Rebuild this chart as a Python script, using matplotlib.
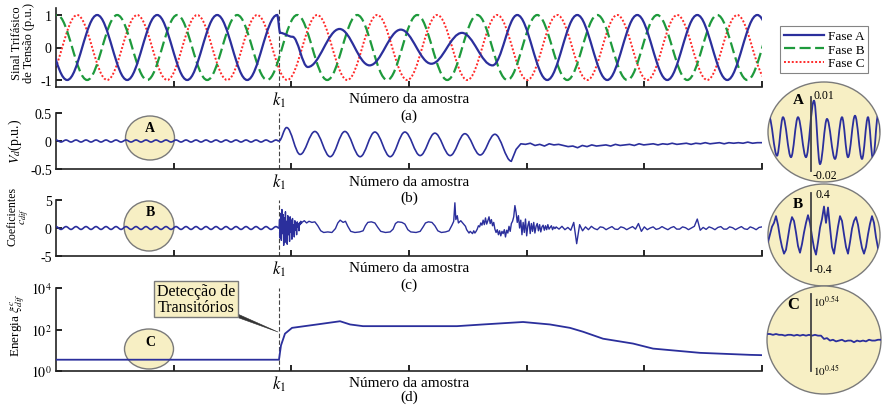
import numpy as np
import matplotlib
matplotlib.use("Agg")
import matplotlib.pyplot as plt
from matplotlib.path import Path
from matplotlib.patches import PathPatch, Ellipse
from matplotlib.lines import Line2D
from matplotlib.ticker import NullLocator

plt.rcParams['font.family'] = ['Liberation Serif', 'DejaVu Serif']
plt.rcParams['mathtext.fontset'] = 'stix'
plt.rcParams['axes.unicode_minus'] = False

# ─────────────────────────────────────────
# DATA
# ─────────────────────────────────────────
K1 = 1895
X_MAX = 6000
X_TICKS = [1000, 2000, 3000, 4000, 5000, 6000]

# (a) three-phase voltage: extrema of each phase (sample, p.u.)
fase_a_x = [-160, 95, 350, 605, 860, 1115, 1370, 1625, 1880, 1905, 2010, 2140,
            2410, 2665, 2930, 3190, 3450, 3710, 3920, 4175, 4430, 4685, 4940,
            5195, 5450, 5705, 5960, 6215]
fase_a_y = [1, -1, 1, -1, 1, -1, 1, -1, 1.0, 0.45, 0.33, -0.6,
            0.57, -0.55, 0.55, -0.5, 0.45, -0.55, 1.0, -1, 1, -1, 1,
            -1, 1, -1, 1, -1]
fase_b_x = np.arange(-245, 6400, 255)
fase_b_y = np.resize([-1.0, 1.0], len(fase_b_x))
fase_c_x = np.arange(-75, 6400, 255)
fase_c_y = np.resize([-1.0, 1.0], len(fase_c_x))

# (b) Vd: ripple before k1, oscillation during the sag, noisy tail
vd_ripple_x = np.arange(0, K1, 42.5)
vd_ripple_y = np.resize([0.018, -0.018], len(vd_ripple_x))
vd_osc_x = [1895, 1960, 2075, 2200, 2330, 2455, 2585, 2710, 2840, 2965, 3095,
            3220, 3350, 3475, 3605, 3730, 3870]
vd_osc_y = [0.0, 0.24, -0.24, 0.17, -0.28, 0.17, -0.28, 0.16, -0.28, 0.16, -0.26,
            0.14, -0.26, 0.13, -0.25, 0.12, -0.36]
vd_tail_y = [-0.36, -0.15, -0.05, -0.06, -0.04, -0.08, -0.06, -0.09, -0.05, -0.07,
             -0.06, -0.08, -0.10, -0.09, -0.12, -0.08, -0.10, -0.07, -0.09, -0.08,
             -0.07, -0.09, -0.06, -0.08, -0.07, -0.06, -0.08, -0.05, -0.07, -0.06,
             -0.05, -0.07, -0.05, -0.06, -0.04, -0.06, -0.05, -0.04, -0.06, -0.04,
             -0.05, -0.03, -0.05, -0.04, -0.03, -0.05, -0.03, -0.04, -0.03, -0.04,
             -0.02, -0.04, -0.03, -0.03]

# (c) coefficients c_dif
cd_ripple_x = np.arange(0, K1, 42.5)
cd_ripple_y = np.resize([0.25, -0.25], len(cd_ripple_x))
cd_burst_y = [0.0, 1.5, -1.8, 2.6, -2.2, 3.3, -1.0, 2.4, -3.1, 1.8, -2.6, 2.9, -1.5,
              1.2, -2.9, 2.2, -1.2, 1.6, -2.4, 2.0, -0.8, 1.4, -2.0, 1.7, -1.0, 0.6,
              -1.6, 1.3, -0.4, 0.9, -1.2, 1.1, 0.2, 0.8, -0.5, 1.0, 0.6, 1.2, 0.8, 1.0]
cd_trap_x = [2110, 2130, 2150, 2175, 2200, 2225, 2250, 2275, 2310, 2345, 2375, 2395,
             2415, 2440, 2460, 2480, 2505, 2540, 2580, 2610, 2630, 2650, 2680, 2710,
             2735, 2760, 2800, 2840, 2865, 2885, 2905, 2940, 2965, 2990, 3015, 3060,
             3095, 3120, 3140, 3165, 3195, 3220, 3245, 3275, 3310, 3340, 3365, 3380,
             3390, 3398, 3410, 3420, 3440, 3460, 3480]
cd_trap_y = [1.3, 0.9, 1.2, 1.0, 1.1, 0.4, -0.5, -0.8, -0.7, -0.8, -0.1, 0.9,
             1.4, 1.0, 1.2, 0.3, -0.6, -0.8, -0.7, -0.5, 0.4, 1.0, 1.1, 0.9,
             0.1, -0.6, -0.8, -0.7, -0.2, 0.8, 1.1, 1.0, 0.7, -0.3, -0.7, -0.8,
             -0.6, 0.2, 0.9, 1.1, 1.0, 0.4, -0.5, -0.8, -0.7, -0.5, 0.5, 1.2,
             4.5, 1.5, 2.2, 0.9, 1.3, 0.8, 0.3]
cd_noise_y = [-0.3, -0.6, -0.9, -0.6, -0.8, -1.0, -0.5, -0.9, -0.6, -0.2, 0.4, 0.2,
              0.9, 0.5, 1.4, 0.6, 1.8, 0.7, 1.3, 2.0, 0.8, 1.5, 0.4, 1.0, -0.2,
              -0.8, -0.3, -1.2, -0.5, -1.4, -0.6, -1.0, -0.3, -1.6, -0.4, -0.9, 0.3,
              -0.6, 0.8, 1.2, 2.0, 4.0, 2.8, 1.0, 2.2, 0.0, 1.4, -1.2, 1.0, -0.8,
              1.6, -1.4, 0.4, 1.2, -1.0, 0.8, -0.6, 1.0, -0.9, 0.3, 0.8, -0.5, 0.6,
              -0.7, 0.2, 0.5, -0.4, 0.4, -0.3, 0.6, -0.2, 0.1, 0.4, -0.3, 0.2, -0.1, 0.1]
cd_tail_y = [0.2, -0.2, 0.3, -0.3, 0.1, -0.4, 1.0, -2.8, 0.6, -0.5, 0.2, -0.3, 0.3,
             -0.1, -0.3, 0.2, 0.1, -0.3, 0.0, 0.25, -0.2, -0.25, 0.2, 0.05, -0.3,
             0.0, 0.25, -0.2, 0.8, -0.6, 0.2, -0.3, 0.0, 0.2, -0.25, -0.1, 0.25,
             -0.05, -0.3, 0.05, 0.25, -0.2, -0.2, 0.2, 0.05, -0.3, 0.0, 0.3, 1.6,
             -0.4, 0.1, -0.25, 0.2, 0.0, -0.3, 0.1, 0.25, -0.2, -0.2, 0.2, 0.05,
             -0.3, 0.0, 0.25, -0.15, -0.25, 0.2, 0.0, -0.3, 0.1, 0.2]

# (d) energy
energia_x = [0, 1895, 1912, 1946, 2006, 2218, 2414, 2499, 2609, 3408, 3629, 3969,
             4198, 4368, 4479, 4649, 4904, 5074, 5473, 5898, 6000]
energia_y = [3.5, 3.5, 17, 63, 120, 175, 250, 175, 145, 145, 175, 230,
             175, 120, 78, 36, 21, 12, 7.5, 6, 5.8]

# zoom windows A, B, C
zoom_a_x = [1, 9, 15, 23, 30, 38, 46, 52, 59, 67, 74, 80, 87, 94, 100, 105, 110, 116]
zoom_a_y = [0.002, -0.0138, 0.0018, -0.0144, 0.0018, -0.0144, 0.0085, -0.0172, 0.0011,
            -0.0151, 0.0018, -0.0144, 0.0024, -0.0151, 0.0018, -0.0151, 0.0024, -0.014]
zoom_b_y = [-0.10, -0.02, 0.06, 0.10, 0.17, 0.08, -0.05, -0.15, -0.22, -0.18, -0.05,
            0.08, 0.16, 0.12, 0.0, -0.14, -0.21, -0.12, 0.0, 0.10, 0.18, 0.10, -0.04,
            -0.16, -0.23, -0.10, 0.05, 0.14, 0.27, 0.10, 0.26, 0.05, -0.15, -0.22,
            -0.08, 0.06, 0.17, 0.12, -0.02, -0.15, -0.22, -0.10, 0.04, 0.12, 0.16,
            0.08, -0.05, -0.16, -0.22, -0.15, -0.02, 0.09, 0.17, 0.10, -0.05, -0.16,
            -0.22]
zoom_c_y = [0.495, 0.495, 0.494, 0.495, 0.494, 0.494, 0.493, 0.494, 0.494, 0.493,
            0.494, 0.493, 0.494, 0.493, 0.494, 0.493, 0.494, 0.493, 0.493, 0.489,
            0.490, 0.487, 0.488, 0.486, 0.487, 0.488, 0.486, 0.487, 0.487, 0.485,
            0.487, 0.486, 0.487, 0.486, 0.488, 0.487, 0.487, 0.488, 0.488]

BLUE = '#2b2f9c'
GREEN = '#1e9a3c'
RED = '#ff2a2a'
ELL_FILL = '#f7efc4'
ELL_EDGE = '#7a7a7a'
W, H = 882, 406


def smooth_path(xs, ys):
    """Cubic Bezier through extrema (horizontal tangents)."""
    verts = [(xs[0], ys[0])]
    codes = [Path.MOVETO]
    for x0, y0, x1, y1 in zip(xs[:-1], ys[:-1], xs[1:], ys[1:]):
        d = 0.3642 * (x1 - x0)
        verts += [(x0 + d, y0), (x1 - d, y1), (x1, y1)]
        codes += [Path.CURVE4] * 3
    return Path(verts, codes)


def px_axes(fig, x0, y0, x1, y1, **kw):
    return fig.add_axes([x0 / W, 1 - y1 / H, (x1 - x0) / W, (y1 - y0) / H], **kw)


def style_panel(ax, letter, letter_off=-28):
    ax.set_facecolor('none')
    for s in ('top', 'right'):
        ax.spines[s].set_visible(False)
    for s in ('left', 'bottom'):
        ax.spines[s].set_linewidth(1.2)
        ax.spines[s].set_color('#222222')
    ax.tick_params(direction='in', length=4, width=1.2, labelsize=10, pad=3)
    ax.set_xlim(0, X_MAX)
    ax.set_xticks(X_TICKS)
    ax.set_xticklabels([])
    ax.axvline(K1, color='#444444', lw=0.8, ls=(0, (4, 2)), zorder=1)
    ax.annotate(r'$k_1$', xy=(K1, 0), xycoords=('data', 'axes fraction'),
                xytext=(0, -12), textcoords='offset pixels',
                ha='center', va='center', fontsize=12)
    ax.annotate('Número da amostra', xy=(0.5, 0), xycoords='axes fraction',
                xytext=(0, -12), textcoords='offset pixels',
                ha='center', va='center', fontsize=11)
    ax.annotate('(%s)' % letter, xy=(0.5, 0), xycoords='axes fraction',
                xytext=(0, letter_off), textcoords='offset pixels',
                ha='center', va='center', fontsize=11)


def main():
    fig = plt.figure(figsize=(8.82, 4.06), dpi=100)

    overlay = px_axes(fig, 0, 0, W, H, zorder=0)
    overlay.set_xlim(0, W)
    overlay.set_ylim(H, 0)
    overlay.axis('off')

    ax_a = px_axes(fig, 56, 9, 762, 88, zorder=1)
    ax_b = px_axes(fig, 56, 114, 762, 170, zorder=1)
    ax_c = px_axes(fig, 56, 201, 762, 257, zorder=1)
    ax_d = px_axes(fig, 56, 289, 762, 372, zorder=1)

    # ── (a) three-phase voltage ──
    ax_a.add_patch(PathPatch(smooth_path(fase_c_x, fase_c_y), fill=False,
                             ec=RED, lw=1.4, ls=(0, (1, 1)), zorder=2))
    ax_a.add_patch(PathPatch(smooth_path(fase_b_x, fase_b_y), fill=False,
                             ec=GREEN, lw=1.6, ls=(0, (5, 2)), zorder=3))
    ax_a.add_patch(PathPatch(smooth_path(fase_a_x, fase_a_y), fill=False,
                             ec=BLUE, lw=1.6, zorder=4))
    ax_a.set_ylim(-1.215, 1.215)
    ax_a.set_yticks([-1, 0, 1])
    ax_a.set_yticklabels(['-1', '0', '1'])
    ax_a.set_ylabel('Sinal Trifásico\nde Tensão (p.u.)', fontsize=9,
                    linespacing=1.0, va='center')
    ax_a.yaxis.set_label_coords(-0.047, 0.57)
    style_panel(ax_a, 'a')

    # ── (b) Vd ──
    vd_x = np.concatenate([vd_ripple_x, vd_osc_x])
    vd_y = np.concatenate([vd_ripple_y, vd_osc_y])
    ax_b.add_patch(PathPatch(smooth_path(vd_x, vd_y), fill=False, ec=BLUE,
                             lw=1.2, zorder=3))
    ax_b.plot(np.linspace(3870, X_MAX, len(vd_tail_y)), vd_tail_y, color=BLUE,
              lw=1.2, zorder=3)
    ax_b.set_ylim(-0.5, 0.5)
    ax_b.set_yticks([-0.5, 0, 0.5])
    ax_b.set_yticklabels(['-0.5', '0', '0.5'])
    ax_b.set_ylabel(r'$V_d$(p.u.)', fontsize=10, va='center')
    ax_b.yaxis.set_label_coords(-0.057, 0.52)
    style_panel(ax_b, 'b')

    # ── (c) coefficients ──
    ax_c.add_patch(PathPatch(smooth_path(np.append(cd_ripple_x, K1),
                                         np.append(cd_ripple_y, 0.0)),
                             fill=False, ec=BLUE, lw=1.2, zorder=3))
    c_x = np.concatenate([np.linspace(K1, 2090, len(cd_burst_y)), cd_trap_x,
                          np.arange(3490, 4251, 10),
                          np.linspace(4250, X_MAX, len(cd_tail_y))])
    c_y = np.concatenate([cd_burst_y, cd_trap_y, cd_noise_y, cd_tail_y])
    ax_c.plot(c_x, c_y, color=BLUE, lw=1.0, zorder=3)
    ax_c.set_ylim(-5, 5)
    ax_c.set_yticks([-5, 0, 5])
    ax_c.set_yticklabels(['-5', '0', '5'])
    ax_c.set_ylabel('Coeficientes\n' + r'$c_{dif}$', fontsize=8.5,
                    linespacing=0.9, va='center')
    ax_c.yaxis.set_label_coords(-0.052, 0.72)
    style_panel(ax_c, 'c')

    # ── (d) energy ──
    ax_d.plot(energia_x, energia_y, color=BLUE, lw=1.3, zorder=3)
    ax_d.set_yscale('log')
    ax_d.set_ylim(1, 1e4)
    ax_d.set_yticks([1, 1e2, 1e4])
    ax_d.set_yticklabels([r'$10^{0}$', r'$10^{2}$', r'$10^{4}$'])
    ax_d.yaxis.set_minor_locator(NullLocator())
    ax_d.set_ylabel(r'Energia $\xi^{c}_{dif}$', fontsize=9.5, va='center')
    ax_d.yaxis.set_label_coords(-0.054, 0.57)
    style_panel(ax_d, 'd', letter_off=-25)

    # ── small markers A, B, C inside the panels ──
    for (cx, cy, w, h), (tx, ty), lab in [((150, 139, 49, 44), (150, 128), 'A'),
                                          ((149, 227, 50, 50), (150, 213), 'B'),
                                          ((149, 350, 49, 40), (150, 343), 'C')]:
        overlay.add_patch(Ellipse((cx, cy), w, h, fc=ELL_FILL, ec=ELL_EDGE, lw=1))
        overlay.text(tx, ty, lab, ha='center', va='center', fontsize=10,
                     fontweight='bold')

    overlay.annotate('Detecção de\nTransitórios', xy=(278, 333), xytext=(196, 300),
                     ha='center', va='center', fontsize=11.5, linespacing=1.0,
                     bbox=dict(boxstyle='square,pad=0.15', fc=ELL_FILL,
                               ec=ELL_EDGE, lw=1),
                     arrowprops=dict(arrowstyle='wedge,tail_width=0.2', fc='#333333',
                                     ec='#333333', lw=0.4, shrinkA=0, shrinkB=0))

    # ── zoom windows on the right ──
    def zoom_axes(x0, y0, x1, y1, xmax, ylim):
        ax = px_axes(fig, x0, y0, x1, y1, zorder=3)
        ax.axis('off')
        ax.set_xlim(0, xmax)
        ax.set_ylim(*ylim)
        ell = Ellipse((0.5, 0.5), 1, 1, transform=ax.transAxes, fc=ELL_FILL,
                      ec=ELL_EDGE, lw=1, zorder=0)
        ell.set_clip_on(False)
        ax.add_patch(ell)
        return ax, ell

    ins_a, ell_a = zoom_axes(768, 83, 880, 183, 112, (-0.02446, 0.01608))
    pa = PathPatch(smooth_path(zoom_a_x, zoom_a_y), fill=False, ec=BLUE, lw=1.3,
                   zorder=2)
    ins_a.add_patch(pa)
    pa.set_clip_path(ell_a)
    ins_a.plot([43, 43], [0.0102, -0.02], color='#444444', lw=1.3, zorder=3)
    ins_a.text(46, 0.0108, '0.01', fontsize=8.5, va='center')
    ins_a.text(45, -0.0215, '-0.02', fontsize=8.5, va='center')
    ins_a.text(30, 0.0088, 'A', fontsize=11, fontweight='bold', ha='center',
               va='center')

    ins_b, ell_b = zoom_axes(768, 185, 880, 287, 112, (-0.556, 0.504))
    lb, = ins_b.plot(np.linspace(0, 112, len(zoom_b_y)), zoom_b_y, color=BLUE,
                     lw=1.3, zorder=2)
    lb.set_clip_path(ell_b)
    ins_b.plot([43, 43], [0.41, -0.40], color='#444444', lw=1.3, zorder=3)
    ins_b.text(47, 0.40, '0.4', fontsize=8.5, va='center')
    ins_b.text(46, -0.38, '-0.4', fontsize=8.5, va='center')
    ins_b.text(30, 0.306, 'B', fontsize=11, fontweight='bold', ha='center',
               va='center')

    ins_c, ell_c = zoom_axes(767, 287, 881, 395, 114, (0.422, 0.5534))
    lc, = ins_c.plot(np.linspace(0, 114, len(zoom_c_y)), zoom_c_y, color=BLUE,
                     lw=1.3, zorder=2)
    lc.set_clip_path(ell_c)
    ins_c.plot([44, 44], [0.544, 0.45], color='#444444', lw=1.3, zorder=3)
    ins_c.text(46, 0.536, r'$10^{0.54}$', fontsize=8, va='center')
    ins_c.text(46, 0.452, r'$10^{0.45}$', fontsize=8, va='center')
    ins_c.text(26, 0.5315, 'C', fontsize=12, fontweight='bold', ha='center',
               va='center')

    # ── legend ──
    handles = [Line2D([], [], color=BLUE, lw=1.6),
               Line2D([], [], color=GREEN, lw=1.6, ls=(0, (5, 2))),
               Line2D([], [], color=RED, lw=1.4, ls=(0, (1, 1)))]
    leg = fig.legend(handles, ['Fase A', 'Fase B', 'Fase C'], loc='upper left',
                     bbox_to_anchor=(780 / W, 1 - 27 / H), frameon=True,
                     fancybox=False, edgecolor='#666666', fontsize=9.5,
                     handlelength=3.0, borderpad=0.3, labelspacing=0.1,
                     handletextpad=0.3, borderaxespad=0)
    leg.get_frame().set_linewidth(0.8)

    fig.savefig('out.png', dpi=100)


if __name__ == '__main__':
    main()
